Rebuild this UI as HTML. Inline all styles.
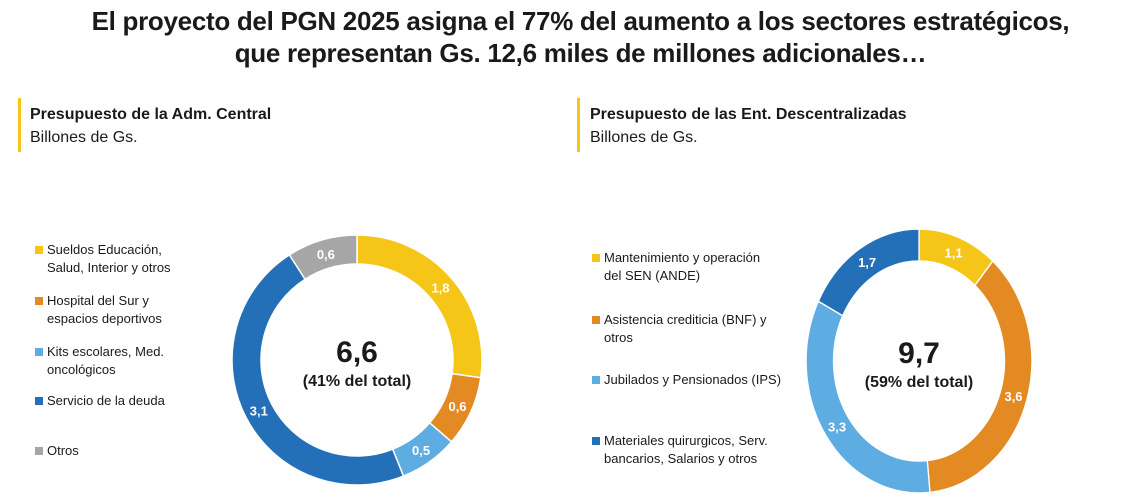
<!DOCTYPE html>
<html><head><meta charset="utf-8"><style>
body{margin:0;width:1133px;height:499px;background:#fff;overflow:hidden;font-family:"Liberation Sans",Arial,sans-serif;color:#1a1a1a;position:relative}
.t{position:absolute;left:14px;width:1133px;text-align:center;font-weight:bold;font-size:26px;letter-spacing:-0.3px}
.bar{position:absolute;width:3px;background:#F5C518}
.h{position:absolute;font-size:16px;line-height:23px}
.lg{position:absolute;font-size:13px;line-height:18px}
.sq{position:absolute;width:8px;height:8px}
</style></head><body>
<div class="t" style="top:6px">El proyecto del PGN 2025 asigna el 77% del aumento a los sectores estratégicos,</div>
<div class="t" style="top:38px">que representan Gs. 12,6 miles de millones adicionales…</div>
<div class="bar" style="left:18px;top:98px;height:54px"></div>
<div class="h" style="left:30px;top:103px"><b>Presupuesto de la Adm. Central</b><br>Billones de Gs.</div>
<div class="bar" style="left:577px;top:98px;height:54px"></div>
<div class="h" style="left:590px;top:103px"><b>Presupuesto de las Ent. Descentralizadas</b><br>Billones de Gs.</div>
<div id="legends"></div>
<svg id="svg" width="1133" height="499" style="position:absolute;left:0;top:0"></svg>
<script>
const leftLabels=["Sueldos Educación,\nSalud, Interior y otros","Hospital del Sur y\nespacios deportivos","Kits escolares, Med.\noncológicos","Servicio de la deuda","Otros"];
const leftValues=[1.8,0.6,0.5,3.1,0.6];
const leftColors=["#F5C518","#E38A23","#5DADE2","#2370B8","#A6A6A6"];
const rightLabels=["Mantenimiento y operación\ndel SEN (ANDE)","Asistencia crediticia (BNF) y\notros","Jubilados y Pensionados (IPS)","Materiales quirurgicos, Serv.\nbancarios, Salarios y otros"];
const rightValues=[1.1,3.6,3.3,1.7];
const rightColors=["#F5C518","#E38A23","#5DADE2","#2370B8"];
const NS="http://www.w3.org/2000/svg";
const svg=document.getElementById('svg');
function fmt(v){return v.toFixed(1).replace('.',',');}
function donut(cx,cy,R,r,sx,vals,cols,total,pct,prefix){
  const g=document.createElementNS(NS,'g');
  g.setAttribute('transform',`translate(${cx},${cy}) scale(${sx},1)`);
  
  
  svg.appendChild(g);
  const sum=vals.reduce((a,b)=>a+b,0);
  let a0=0;
  vals.forEach((v,i)=>{
    const a1=a0+v/sum*Math.PI*2;
    const p=(a,rr)=>[rr*Math.sin(a),-rr*Math.cos(a)];
    const [x0,y0]=p(a0,R),[x1,y1]=p(a1,R),[x2,y2]=p(a1,r),[x3,y3]=p(a0,r);
    const lf=(a1-a0)>Math.PI?1:0;
    const path=document.createElementNS(NS,'path');
    path.setAttribute('d',`M${x0},${y0}A${R},${R} 0 ${lf} 1 ${x1},${y1}L${x2},${y2}A${r},${r} 0 ${lf} 0 ${x3},${y3}Z`);
    path.setAttribute('fill',cols[i]);path.setAttribute('stroke','#fff');path.setAttribute('stroke-width','1.5');
    
    
    g.appendChild(path);
    const am=(a0+a1)/2,rm=(R+r)/2;
    const t=document.createElementNS(NS,'text');
    t.setAttribute('x',cx+rm*Math.sin(am)*sx);t.setAttribute('y',cy-rm*Math.cos(am)+5);
    t.setAttribute('text-anchor','middle');t.setAttribute('fill','#fff');t.setAttribute('font-size','13');t.setAttribute('font-weight','bold');
    t.setAttribute('font-family','Liberation Sans, sans-serif');
    
    
    t.textContent=fmt(v);svg.appendChild(t);
    a0=a1;
  });
  const c1=document.createElementNS(NS,'text');
  c1.setAttribute('x',cx);c1.setAttribute('y',cy+2);c1.setAttribute('text-anchor','middle');c1.setAttribute('font-size','30');c1.setAttribute('font-weight','bold');c1.setAttribute('fill','#1a1a1a');c1.setAttribute('font-family','Liberation Sans, sans-serif');
  
  
  c1.textContent=total;svg.appendChild(c1);
  const c2=document.createElementNS(NS,'text');
  c2.setAttribute('x',cx);c2.setAttribute('y',cy+26);c2.setAttribute('text-anchor','middle');c2.setAttribute('font-size','16');c2.setAttribute('font-weight','bold');c2.setAttribute('fill','#1a1a1a');c2.setAttribute('font-family','Liberation Sans, sans-serif');
  
  
  c2.textContent=pct;svg.appendChild(c2);
}
donut(357,360,125,96,1,leftValues,leftColors,"6,6","(41% del total)","left");
donut(919,361,132,100,0.855,rightValues,rightColors,"9,7","(59% del total)","right");
const lgBox=document.getElementById('legends');
function legend(x,ys,labels,cols,prefix){
  labels.forEach((l,i)=>{
    const sq=document.createElement('div');sq.className='sq';
    sq.style.left=x+'px';sq.style.top=(ys[i]+5)+'px';sq.style.background=cols[i];
    
    
    lgBox.appendChild(sq);
    const d=document.createElement('div');d.className='lg';
    d.style.left=(x+12)+'px';d.style.top=ys[i]+'px';
    d.innerHTML=l.replace('\n','<br>');
    
    
    lgBox.appendChild(d);
  });
}
legend(35,[241,292,343,392,442],leftLabels,leftColors,'left');
legend(592,[249,311,371,432],rightLabels,rightColors,'right');
</script>
</body></html>
